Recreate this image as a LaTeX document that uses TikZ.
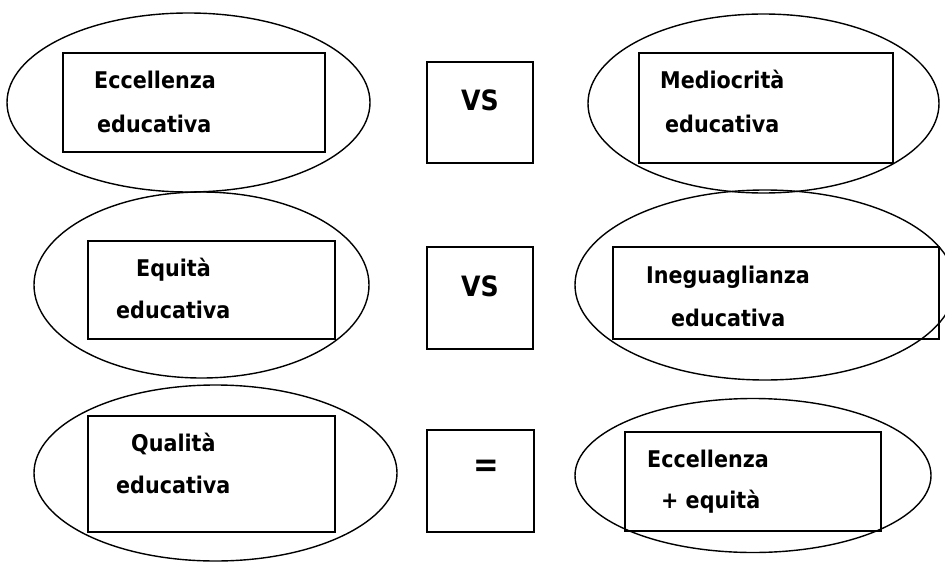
\documentclass[tikz,border=0pt]{standalone}
\usepackage{fontspec}
\setmainfont{DejaVu Sans Condensed}
\usetikzlibrary{shapes.geometric}
\begin{document}
\begin{tikzpicture}[x=1pt,y=-1pt,
  oval/.style={draw,ellipse,line width=1.4pt,inner sep=0pt},
  box/.style={draw,rectangle,line width=1.7pt,inner sep=0pt},
  lbl/.style={anchor=base west,inner sep=0pt,font=\fontsize{23}{27}\selectfont\bfseries},
  sym/.style={anchor=center,inner sep=0pt,font=\fontsize{28}{32}\selectfont\bfseries}]
\useasboundingbox (0,0) rectangle (945,562);
\clip (0,0) rectangle (945,562);
% row 1
\node[oval,minimum width=363pt,minimum height=179pt] (e1) at (188.5,102.5) {};
\node[box,minimum width=262pt,minimum height=99pt] (r1) at (194,102.5) {};
\node[box,minimum width=106pt,minimum height=101pt] (b1) at (480,112.5) {};
\node[sym] (s1) at (480,100) {VS};
\node[oval,minimum width=351pt,minimum height=179pt] (e2) at (763.5,103.5) {};
\node[box,minimum width=254pt,minimum height=110pt] (r2) at (766,108) {};
\node[lbl] (t1a) at (94,88) {Eccellenza};
\node[lbl] (t1b) at (97,132) {educativa};
\node[lbl] (t2a) at (660,88) {Mediocrità};
\node[lbl] (t2b) at (665,132) {educativa};
% row 2
\node[oval,minimum width=335pt,minimum height=186pt] (e3) at (201.5,285) {};
\node[box,minimum width=247pt,minimum height=98pt] (r3) at (211.5,290) {};
\node[box,minimum width=106pt,minimum height=102pt] (b2) at (480,298) {};
\node[sym] (s2) at (480,286) {VS};
\node[oval,minimum width=380pt,minimum height=190pt] (e4) at (765,285) {};
\node[box,minimum width=326pt,minimum height=92pt] (r4) at (776,293) {};
\node[lbl] (t3a) at (136,276) {Equità};
\node[lbl] (t3b) at (116,318) {educativa};
\node[lbl] (t4a) at (646,283) {Ineguaglianza};
\node[lbl] (t4b) at (671,326) {educativa};
% row 3
\node[oval,minimum width=363pt,minimum height=176pt] (e5) at (215.5,473) {};
\node[box,minimum width=247pt,minimum height=116pt] (r5) at (211.5,474) {};
\node[box,minimum width=107pt,minimum height=102pt] (b3) at (480.5,481) {};
\node[sym,font=\fontsize{34}{38}\selectfont\bfseries] (s3) at (486,468) {=};
\node[oval,minimum width=356pt,minimum height=154pt] (e6) at (753,475.5) {};
\node[box,minimum width=256pt,minimum height=99pt] (r6) at (753,481.5) {};
\node[lbl] (t5a) at (131,451) {Qualità};
\node[lbl] (t5b) at (116,493) {educativa};
\node[lbl] (t6a) at (647,467) {Eccellenza};
\node[lbl] (t6b) at (661,508) {+ equità};
\end{tikzpicture}
\end{document}
